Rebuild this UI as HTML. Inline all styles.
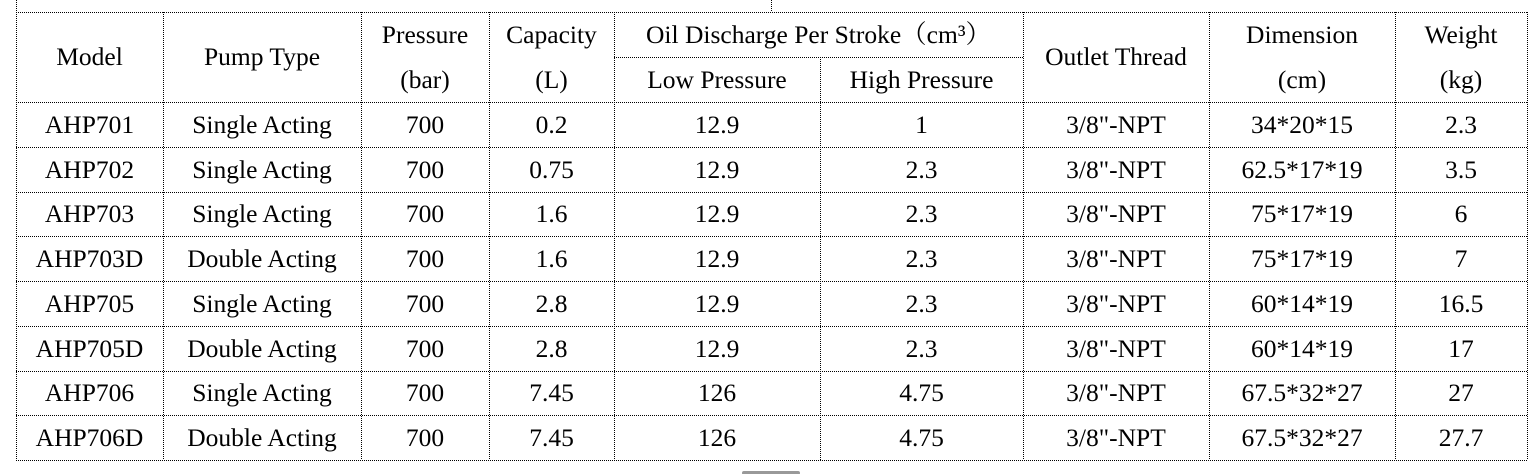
<!DOCTYPE html>
<html><head><style>
body{margin:0;width:1540px;height:474px;background:#fff;overflow:hidden;position:relative;font-family:"Liberation Serif","Noto Serif CJK SC",serif;font-size:25.5px;color:#000}
.t{position:absolute;text-align:center;line-height:44px;height:44px;white-space:nowrap}
</style></head><body>
<svg width="1540" height="474" style="position:absolute;left:0;top:0">
<g stroke="#000" stroke-width="1" stroke-dasharray="1,1" fill="none">
<line x1="16.5" y1="0" x2="16.5" y2="460"/>
<line x1="771.5" y1="0" x2="771.5" y2="12"/>
<line x1="163.5" y1="12" x2="163.5" y2="460"/>
<line x1="361.5" y1="12" x2="361.5" y2="460"/>
<line x1="489.5" y1="12" x2="489.5" y2="460"/>
<line x1="614.5" y1="12" x2="614.5" y2="460"/>
<line x1="820.5" y1="57" x2="820.5" y2="460"/>
<line x1="1023.5" y1="12" x2="1023.5" y2="460"/>
<line x1="1209.5" y1="12" x2="1209.5" y2="460"/>
<line x1="1395.5" y1="12" x2="1395.5" y2="460"/>
<line x1="1527.5" y1="12" x2="1527.5" y2="460"/>
<line x1="16" y1="12.5" x2="1528" y2="12.5"/>
<line x1="614" y1="57.5" x2="1023" y2="57.5"/>
<line x1="16" y1="102.5" x2="1528" y2="102.5"/>
<line x1="16" y1="147.5" x2="1528" y2="147.5"/>
<line x1="16" y1="192.5" x2="1528" y2="192.5"/>
<line x1="16" y1="236.5" x2="1528" y2="236.5"/>
<line x1="16" y1="281.5" x2="1528" y2="281.5"/>
<line x1="16" y1="326.5" x2="1528" y2="326.5"/>
<line x1="16" y1="371.5" x2="1528" y2="371.5"/>
<line x1="16" y1="415.5" x2="1528" y2="415.5"/>
<line x1="16" y1="460.5" x2="1528" y2="460.5"/>
</g>
<rect x="742" y="471" width="58" height="4" rx="2" fill="#999"/>
</svg>
<div class="t" style="left:16px;width:147px;top:35px">Model</div>
<div class="t" style="left:163px;width:198px;top:35px">Pump Type</div>
<div class="t" style="left:361px;width:128px;top:13px">Pressure</div>
<div class="t" style="left:361px;width:128px;top:58px">(bar)</div>
<div class="t" style="left:489px;width:125px;top:13px">Capacity</div>
<div class="t" style="left:489px;width:125px;top:58px">(L)</div>
<div class="t" style="left:614px;width:409px;top:13px">Oil Discharge Per Stroke（cm³）</div>
<div class="t" style="left:614px;width:206px;top:58px">Low Pressure</div>
<div class="t" style="left:820px;width:203px;top:58px">High Pressure</div>
<div class="t" style="left:1023px;width:186px;top:35px">Outlet Thread</div>
<div class="t" style="left:1209px;width:186px;top:13px">Dimension</div>
<div class="t" style="left:1209px;width:186px;top:58px">(cm)</div>
<div class="t" style="left:1395px;width:132px;top:13px">Weight</div>
<div class="t" style="left:1395px;width:132px;top:58px">(kg)</div>
<div class="t" style="left:16px;width:147px;top:103px">AHP701</div><div class="t" style="left:163px;width:198px;top:103px">Single Acting</div><div class="t" style="left:361px;width:128px;top:103px">700</div><div class="t" style="left:489px;width:125px;top:103px">0.2</div><div class="t" style="left:614px;width:206px;top:103px">12.9</div><div class="t" style="left:820px;width:203px;top:103px">1</div><div class="t" style="left:1023px;width:186px;top:103px">3/8"-NPT</div><div class="t" style="left:1209px;width:186px;top:103px">34*20*15</div><div class="t" style="left:1395px;width:132px;top:103px">2.3</div>
<div class="t" style="left:16px;width:147px;top:148px">AHP702</div><div class="t" style="left:163px;width:198px;top:148px">Single Acting</div><div class="t" style="left:361px;width:128px;top:148px">700</div><div class="t" style="left:489px;width:125px;top:148px">0.75</div><div class="t" style="left:614px;width:206px;top:148px">12.9</div><div class="t" style="left:820px;width:203px;top:148px">2.3</div><div class="t" style="left:1023px;width:186px;top:148px">3/8"-NPT</div><div class="t" style="left:1209px;width:186px;top:148px">62.5*17*19</div><div class="t" style="left:1395px;width:132px;top:148px">3.5</div>
<div class="t" style="left:16px;width:147px;top:192px">AHP703</div><div class="t" style="left:163px;width:198px;top:192px">Single Acting</div><div class="t" style="left:361px;width:128px;top:192px">700</div><div class="t" style="left:489px;width:125px;top:192px">1.6</div><div class="t" style="left:614px;width:206px;top:192px">12.9</div><div class="t" style="left:820px;width:203px;top:192px">2.3</div><div class="t" style="left:1023px;width:186px;top:192px">3/8"-NPT</div><div class="t" style="left:1209px;width:186px;top:192px">75*17*19</div><div class="t" style="left:1395px;width:132px;top:192px">6</div>
<div class="t" style="left:16px;width:147px;top:237px">AHP703D</div><div class="t" style="left:163px;width:198px;top:237px">Double Acting</div><div class="t" style="left:361px;width:128px;top:237px">700</div><div class="t" style="left:489px;width:125px;top:237px">1.6</div><div class="t" style="left:614px;width:206px;top:237px">12.9</div><div class="t" style="left:820px;width:203px;top:237px">2.3</div><div class="t" style="left:1023px;width:186px;top:237px">3/8"-NPT</div><div class="t" style="left:1209px;width:186px;top:237px">75*17*19</div><div class="t" style="left:1395px;width:132px;top:237px">7</div>
<div class="t" style="left:16px;width:147px;top:282px">AHP705</div><div class="t" style="left:163px;width:198px;top:282px">Single Acting</div><div class="t" style="left:361px;width:128px;top:282px">700</div><div class="t" style="left:489px;width:125px;top:282px">2.8</div><div class="t" style="left:614px;width:206px;top:282px">12.9</div><div class="t" style="left:820px;width:203px;top:282px">2.3</div><div class="t" style="left:1023px;width:186px;top:282px">3/8"-NPT</div><div class="t" style="left:1209px;width:186px;top:282px">60*14*19</div><div class="t" style="left:1395px;width:132px;top:282px">16.5</div>
<div class="t" style="left:16px;width:147px;top:327px">AHP705D</div><div class="t" style="left:163px;width:198px;top:327px">Double Acting</div><div class="t" style="left:361px;width:128px;top:327px">700</div><div class="t" style="left:489px;width:125px;top:327px">2.8</div><div class="t" style="left:614px;width:206px;top:327px">12.9</div><div class="t" style="left:820px;width:203px;top:327px">2.3</div><div class="t" style="left:1023px;width:186px;top:327px">3/8"-NPT</div><div class="t" style="left:1209px;width:186px;top:327px">60*14*19</div><div class="t" style="left:1395px;width:132px;top:327px">17</div>
<div class="t" style="left:16px;width:147px;top:371px">AHP706</div><div class="t" style="left:163px;width:198px;top:371px">Single Acting</div><div class="t" style="left:361px;width:128px;top:371px">700</div><div class="t" style="left:489px;width:125px;top:371px">7.45</div><div class="t" style="left:614px;width:206px;top:371px">126</div><div class="t" style="left:820px;width:203px;top:371px">4.75</div><div class="t" style="left:1023px;width:186px;top:371px">3/8"-NPT</div><div class="t" style="left:1209px;width:186px;top:371px">67.5*32*27</div><div class="t" style="left:1395px;width:132px;top:371px">27</div>
<div class="t" style="left:16px;width:147px;top:416px">AHP706D</div><div class="t" style="left:163px;width:198px;top:416px">Double Acting</div><div class="t" style="left:361px;width:128px;top:416px">700</div><div class="t" style="left:489px;width:125px;top:416px">7.45</div><div class="t" style="left:614px;width:206px;top:416px">126</div><div class="t" style="left:820px;width:203px;top:416px">4.75</div><div class="t" style="left:1023px;width:186px;top:416px">3/8"-NPT</div><div class="t" style="left:1209px;width:186px;top:416px">67.5*32*27</div><div class="t" style="left:1395px;width:132px;top:416px">27.7</div>
</body></html>
